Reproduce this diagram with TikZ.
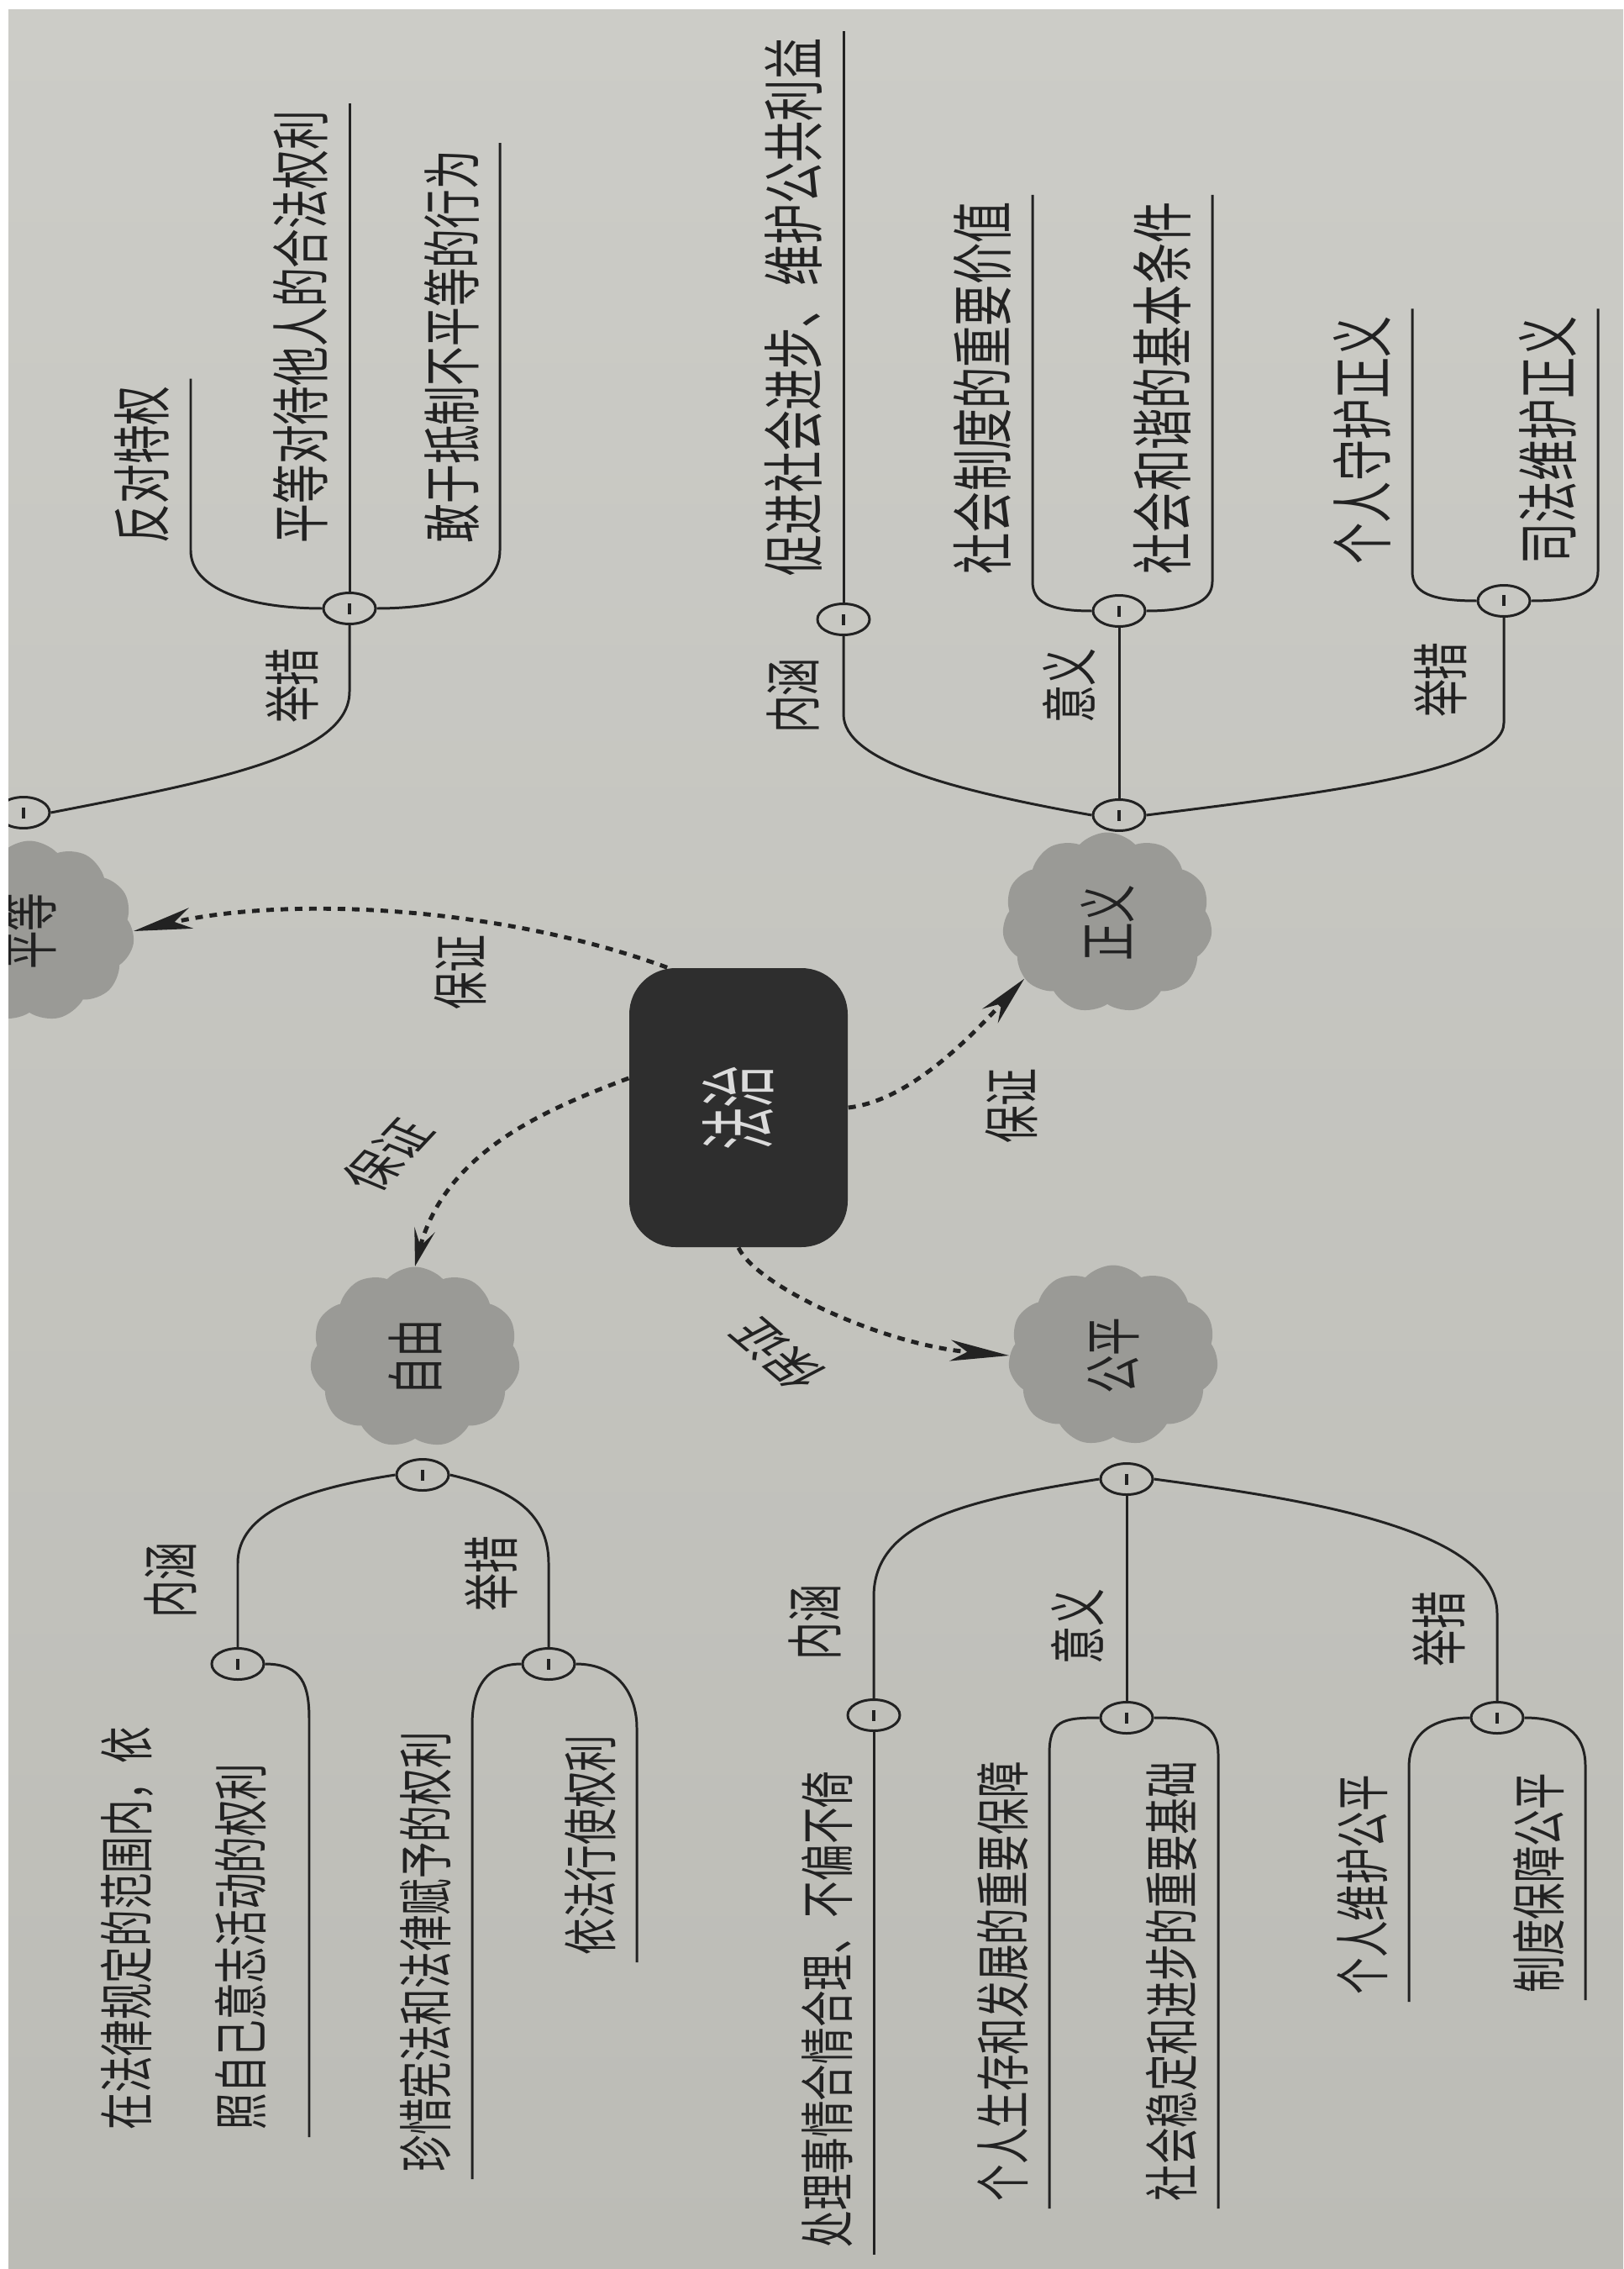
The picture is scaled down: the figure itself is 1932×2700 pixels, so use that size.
\documentclass[tikz,border=0pt]{standalone}
\usepackage{fontspec}
\usepackage{graphicx}
\newfontfamily\cjk{Noto Sans CJK SC}
\usetikzlibrary{arrows.meta, shapes.geometric, shapes.symbols}
\definecolor{paperhi}{RGB}{204,204,199}
\definecolor{paperlo}{RGB}{188,188,182}
\definecolor{puffgray}{RGB}{154,154,150}
\definecolor{corefill}{RGB}{46,46,46}
\definecolor{ink}{RGB}{34,34,34}
\newcommand{\vtext}[2][1.5]{\rotatebox{90}{\scalebox{1}[#1]{#2}}}
\newcommand{\knotbar}{\rule{0.35mm}{1.3mm}}

\begin{document}
\begin{tikzpicture}[
  x=0.1mm, y=-0.1mm,
  every node/.style={text=ink},
  tilt/.style={xscale=1.5, rotate=#1, inner sep=0pt, font=\cjk\fontsize{12.8}{15}\selectfont},
  word/.style={tilt=90},
  leaf/.style={tilt=90, anchor=south west, inner xsep=0.8mm, inner ysep=1.6mm, align=left,
               font=\cjk\fontsize{#1}{25.8}\selectfont},
  knot/.style={ellipse, draw=ink, line width=0.85pt, minimum width=6.2mm, minimum height=3.7mm, inner sep=0pt},
  puff/.style={cloud, cloud puffs=11, cloud puff arc=95, cloud ignores aspect, fill=puffgray, minimum width=25mm,
               minimum height=21.5mm, inner sep=0pt, font=\cjk\fontsize{13}{15}\selectfont},
  core/.style={rectangle, rounded corners=5.5mm, fill=corefill, minimum width=26mm, minimum height=33.2mm,
               inner sep=0pt, text=white!86!black, font=\cjk\fontsize{14.5}{17}\selectfont},
  twig/.style={draw=ink, line width=0.85pt},
  guard/.style={draw=ink, line width=1.4pt, dash pattern=on 0.9mm off 0.8mm,
                -{Stealth[length=#1, width=2.5mm, inset=2mm]}},
  guard/.default=7mm
]
\useasboundingbox (0,0) rectangle (1932,2700);
\fill[white] (0,0) rectangle (1932,2700);
\shade[top color=paperhi, bottom color=paperlo] (10,12) rectangle (1932,2700);
\clip (10,12) rectangle (1932,2700);

% centre and the four values
\node[core] (fz) at (879,1318) {\vtext[1.8]{法治}};
\node[puff] (pd) at (35,1108) {\vtext{平等}};
\node[puff] (zy) at (494,1615) {\vtext{自由}};
\node[puff] (zhy) at (1318,1098) {\vtext{正义}};
\node[puff] (gp) at (1325,1613) {\vtext{公平}};

\draw[guard] (fz.117) .. controls (600,1080) and (350,1065) .. (pd.east);
\draw[guard=4.5mm] (fz.165) .. controls (650,1320) and (530,1370) .. (zy.north);
\draw[guard] (fz.south) .. controls (900,1530) and (1050,1600) .. (gp.west);
\draw[guard=6mm] (fz.east) .. controls (1080,1310) and (1150,1240) .. (zhy.214);
\node[word] (g1) at (548,1157) {保证};
\node[tilt=58] (g2) at (462,1374) {保证};
\node[tilt=128] (g3) at (925,1612) {保证};
\node[word] (g4) at (1204,1316) {保证};

% 平等
\node[knot] (pd0) at (28,967) {\knotbar};
\node[knot] (pd1) at (416,724) {\knotbar};
\node[word] (pdL) at (348,816) {举措};
\node[leaf=13.3] (pdA) at (227,655) {反对特权};
\node[leaf=13.3] (pdB) at (416,655) {平等对待他人的合法权利};
\node[leaf=13.3] (pdC) at (595,655) {敢于抵制不平等的行为};
\draw[twig] (pd0.east) .. controls (250,930) and (416,900) .. (416,823) -- (pd1.south);
\draw[twig] (pd1.west) .. controls +(-90,0) and +(0,45) .. (pdA.south west) -- (pdA.south east);
\draw[twig] (pd1.north) -- (pdB.south west) -- (pdB.south east);
\draw[twig] (pd1.east) .. controls +(90,0) and +(0,45) .. (pdC.south west) -- (pdC.south east);

% 正义
\node[knot] (zhy0) at (1332,970) {\knotbar};
\node[knot] (zhy1) at (1004,737) {\knotbar};
\node[knot] (zhy2) at (1332,727) {\knotbar};
\node[knot] (zhy3) at (1790,715) {\knotbar};
\node[word] (zhyL1) at (944,828) {内涵};
\node[word] (zhyL2) at (1272,816) {意义};
\node[word] (zhyL3) at (1715,809) {举措};
\node[leaf=14] (zhyA) at (1004,694) {促进社会进步、维护公共利益};
\node[leaf=14] (zhyB) at (1229,692) {社会制度的重要价值};
\node[leaf=14] (zhyC) at (1443,692) {社会和谐的基本条件};
\node[leaf=14] (zhyD) at (1681,680) {个人守护正义};
\node[leaf=14] (zhyE) at (1902,680) {司法维护正义};
\draw[twig] (zhy0.west) .. controls (1130,940) and (1004,905) .. (1004,850) -- (zhy1.south);
\draw[twig] (zhy0.north) -- (zhy2.south);
\draw[twig] (zhy0.east) .. controls (1560,945) and (1790,920) .. (1790,860) -- (zhy3.south);
\draw[twig] (zhy1.north) -- (zhyA.south west) -- (zhyA.south east);
\draw[twig] (zhy2.west) .. controls +(-50,0) and +(0,25) .. (zhyB.south west) -- (zhyB.south east);
\draw[twig] (zhy2.east) .. controls +(50,0) and +(0,25) .. (zhyC.south west) -- (zhyC.south east);
\draw[twig] (zhy3.west) .. controls +(-55,0) and +(0,25) .. (zhyD.south west) -- (zhyD.south east);
\draw[twig] (zhy3.east) .. controls +(55,0) and +(0,25) .. (zhyE.south west) -- (zhyE.south east);

% 自由
\node[knot] (zy0) at (503,1755) {\knotbar};
\node[knot] (zy1) at (283,1980) {\knotbar};
\node[knot] (zy2) at (653,1980) {\knotbar};
\node[word] (zyL1) at (203,1880) {内涵};
\node[word] (zyL2) at (585,1872) {举措};
\node[leaf=12.4, inner ysep=3.3mm] (zyA) at (368,2543) {在法律规定的范围内，依\\照自己意志活动的权利};
\node[leaf=12.4] (zyB) at (562,2593) {珍惜宪法和法律赋予的权利};
\node[leaf=12.4] (zyC) at (758,2335) {依法行使权利};
\draw[twig] (zy0.west) .. controls (360,1772) and (283,1800) .. (283,1860) -- (zy1.north);
\draw[twig] (zy0.east) .. controls (600,1770) and (653,1795) .. (653,1860) -- (zy2.north);
\draw[twig] (zy1.east) .. controls +(45,0) and +(0,-40) .. (zyA.south east) -- (zyA.south west);
\draw[twig] (zy2.west) .. controls +(-45,0) and +(0,-40) .. (zyB.south east) -- (zyB.south west);
\draw[twig] (zy2.east) .. controls +(50,0) and +(0,-40) .. (zyC.south east) -- (zyC.south west);

% 公平
\node[knot] (gp0) at (1341,1760) {\knotbar};
\node[knot] (gp1) at (1040,2041) {\knotbar};
\node[knot] (gp2) at (1341,2044) {\knotbar};
\node[knot] (gp3) at (1782,2044) {\knotbar};
\node[word] (gpL1) at (970,1930) {内涵};
\node[word] (gpL2) at (1282,1935) {意义};
\node[word] (gpL3) at (1713,1938) {举措};
\node[leaf=12.4] (gpA) at (1040,2683) {处理事情合情合理、不偏不倚};
\node[leaf=12.4] (gpB) at (1249,2628) {个人生存和发展的重要保障};
\node[leaf=12.4] (gpC) at (1450,2628) {社会稳定和进步的重要基础};
\node[leaf=12.4] (gpD) at (1677,2382) {个人维护公平};
\node[leaf=12.4] (gpE) at (1887,2380) {制度保障公平};
\draw[twig] (gp0.west) .. controls (1150,1785) and (1040,1810) .. (1040,1900) -- (gp1.north);
\draw[twig] (gp0.south) -- (gp2.north);
\draw[twig] (gp0.east) .. controls (1560,1785) and (1782,1820) .. (1782,1920) -- (gp3.north);
\draw[twig] (gp1.south) -- (gpA.south east) -- (gpA.south west);
\draw[twig] (gp2.west) .. controls +(-45,0) and +(0,-40) .. (gpB.south east) -- (gpB.south west);
\draw[twig] (gp2.east) .. controls +(45,0) and +(0,-40) .. (gpC.south east) -- (gpC.south west);
\draw[twig] (gp3.west) .. controls +(-45,0) and +(0,-40) .. (gpD.south east) -- (gpD.south west);
\draw[twig] (gp3.east) .. controls +(45,0) and +(0,-40) .. (gpE.south east) -- (gpE.south west);
\end{tikzpicture}
\end{document}
